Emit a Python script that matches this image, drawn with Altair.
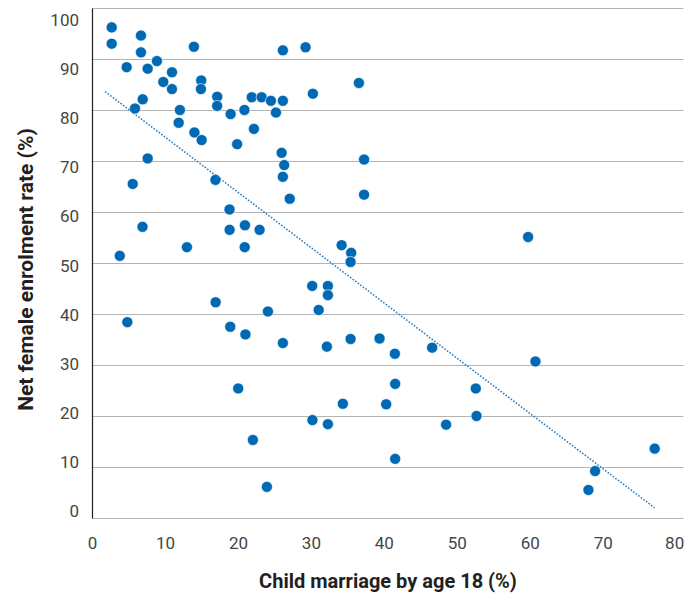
import altair as alt
import pandas as pd

# Child marriage by age 18 (%) and net female enrolment rate (%) per country
child_marriage = [2.70, 2.70, 4.75, 6.71, 6.71, 7.63, 8.90, 9.77, 10.96, 10.96,
                  6.95, 5.89, 12.05, 11.88, 13.97, 14.97, 14.93, 14.04, 15.03, 17.16,
                  17.15, 19.0, 20.89, 19.89, 22.19, 21.89, 23.25, 24.52, 26.16, 25.21,
                  26.16, 29.27, 30.27, 25.99, 26.34, 26.16, 27.10, 7.63, 5.58, 16.92,
                  6.92, 3.81, 13.01, 18.85, 18.86, 20.96, 20.93, 22.97, 34.21, 35.52,
                  35.44, 36.58, 37.29, 37.29, 59.77, 4.84, 16.95, 18.95, 21.03, 24.11,
                  26.16, 30.18, 32.33, 32.33, 31.07, 32.19, 35.44, 20.04, 22.05, 23.97,
                  30.21, 32.33, 34.38, 39.41, 41.51, 41.55, 40.32, 46.62, 60.78, 52.60,
                  52.70, 48.53, 41.55, 77.12, 68.95, 68.04]
enrolment = [96.2, 93.0, 88.4, 94.6, 91.3, 88.1, 89.6, 85.5, 87.4, 84.1,
             82.1, 80.3, 80.0, 77.5, 92.4, 85.8, 84.1, 75.6, 74.1, 82.6,
             80.8, 79.2, 80.0, 73.3, 76.3, 82.5, 82.5, 81.8, 81.8, 79.5,
             91.7, 92.3, 83.2, 71.6, 69.2, 66.9, 62.6, 70.5, 65.5, 66.3,
             57.1, 51.4, 53.1, 60.5, 56.5, 57.4, 53.1, 56.5, 53.5, 52.0,
             50.2, 85.3, 70.3, 63.4, 55.1, 38.4, 42.3, 37.5, 36.0, 40.5,
             34.3, 45.5, 45.5, 43.7, 40.8, 33.6, 35.1, 25.4, 15.3, 6.1,
             19.2, 18.4, 22.4, 35.2, 32.2, 26.3, 22.3, 33.4, 30.7, 25.4,
             20.0, 18.3, 11.6, 13.6, 9.2, 5.5]

# Dotted linear trend line (end points)
trend_x = [1.8, 77.1]
trend_y = [83.6, 2.0]

x_ticks = [0, 10, 20, 30, 40, 50, 60, 70, 80]
y_ticks = [0, 10, 20, 30, 40, 50, 60, 70, 80, 90, 100]

FONT = "Roboto"
TEXT_GREY = "#454545"
DARK = "#231f20"
BLUE = "#0069b4"

points_df = pd.DataFrame({"cm": child_marriage, "enr": enrolment})
trend_df = pd.DataFrame({"cm": trend_x, "enr": trend_y})
ticks_df = pd.DataFrame({"tick": y_ticks})

x_scale = alt.Scale(domain=[0, 81], nice=False, zero=False)
y_scale = alt.Scale(domain=[0, 100], nice=False, zero=False)

points = alt.Chart(points_df).mark_circle(
    size=122, opacity=1, color=BLUE, stroke="white", strokeWidth=0.6
).encode(
    x=alt.X("cm:Q", scale=x_scale,
            axis=alt.Axis(values=x_ticks, grid=False, domain=False, ticks=False,
                          tickSize=0, labelPadding=17, labelFont=FONT,
                          labelFontSize=17, labelColor=TEXT_GREY,
                          labelAlign={"condition": {"test": "datum.value === 80",
                                                    "value": "right"},
                                      "value": "center"},
                          labelOffset={"condition": {"test": "datum.value === 80",
                                                     "value": 8},
                                       "value": 0},
                          title="Child marriage by age 18 (%)", titleFont=FONT,
                          titleFontSize=20, titleFontWeight="bold",
                          titleColor=DARK, titleY=69,
                          titleBaseline="alphabetic")),
    y=alt.Y("enr:Q", scale=y_scale,
            axis=alt.Axis(values=y_ticks, labels=False, ticks=False, grid=True,
                          gridColor="#b3b3b3", gridWidth=1.2,
                          domainColor=DARK, domainWidth=1.2,
                          title="Net female enrolment rate (%)", titleFont=FONT,
                          titleFontSize=21, titleFontWeight="bold",
                          titleColor=DARK, titleX=-60, titleY=261,
                          titleBaseline="alphabetic")),
)

trend = alt.Chart(trend_df).mark_line(
    color="#2f80c4", strokeWidth=1.6, strokeDash=[1.6, 1.6]
).encode(
    x=alt.X("cm:Q", scale=x_scale),
    y=alt.Y("enr:Q", scale=y_scale, axis=None),
)

labels = alt.Chart(ticks_df).mark_text(
    align="right", baseline="middle", font=FONT, fontSize=17, color=TEXT_GREY
).encode(
    x=alt.value(-13),
    y=alt.Y("tick:Q", scale=alt.Scale(domain=[-1.22, 102.65], nice=False,
                                      zero=False), axis=None),
    text=alt.Text("tick:Q", format="d"),
)

chart = alt.layer(points, trend, labels).resolve_scale(
    y="independent"
).properties(
    width=591,
    height=510,
    autosize=alt.AutoSizeParams(type="none"),
    padding={"left": 84, "top": 0, "right": 1, "bottom": 81},
    background="white",
).configure_view(stroke=None)

chart.save("out.html", embed_options={"renderer": "svg", "actions": False})
